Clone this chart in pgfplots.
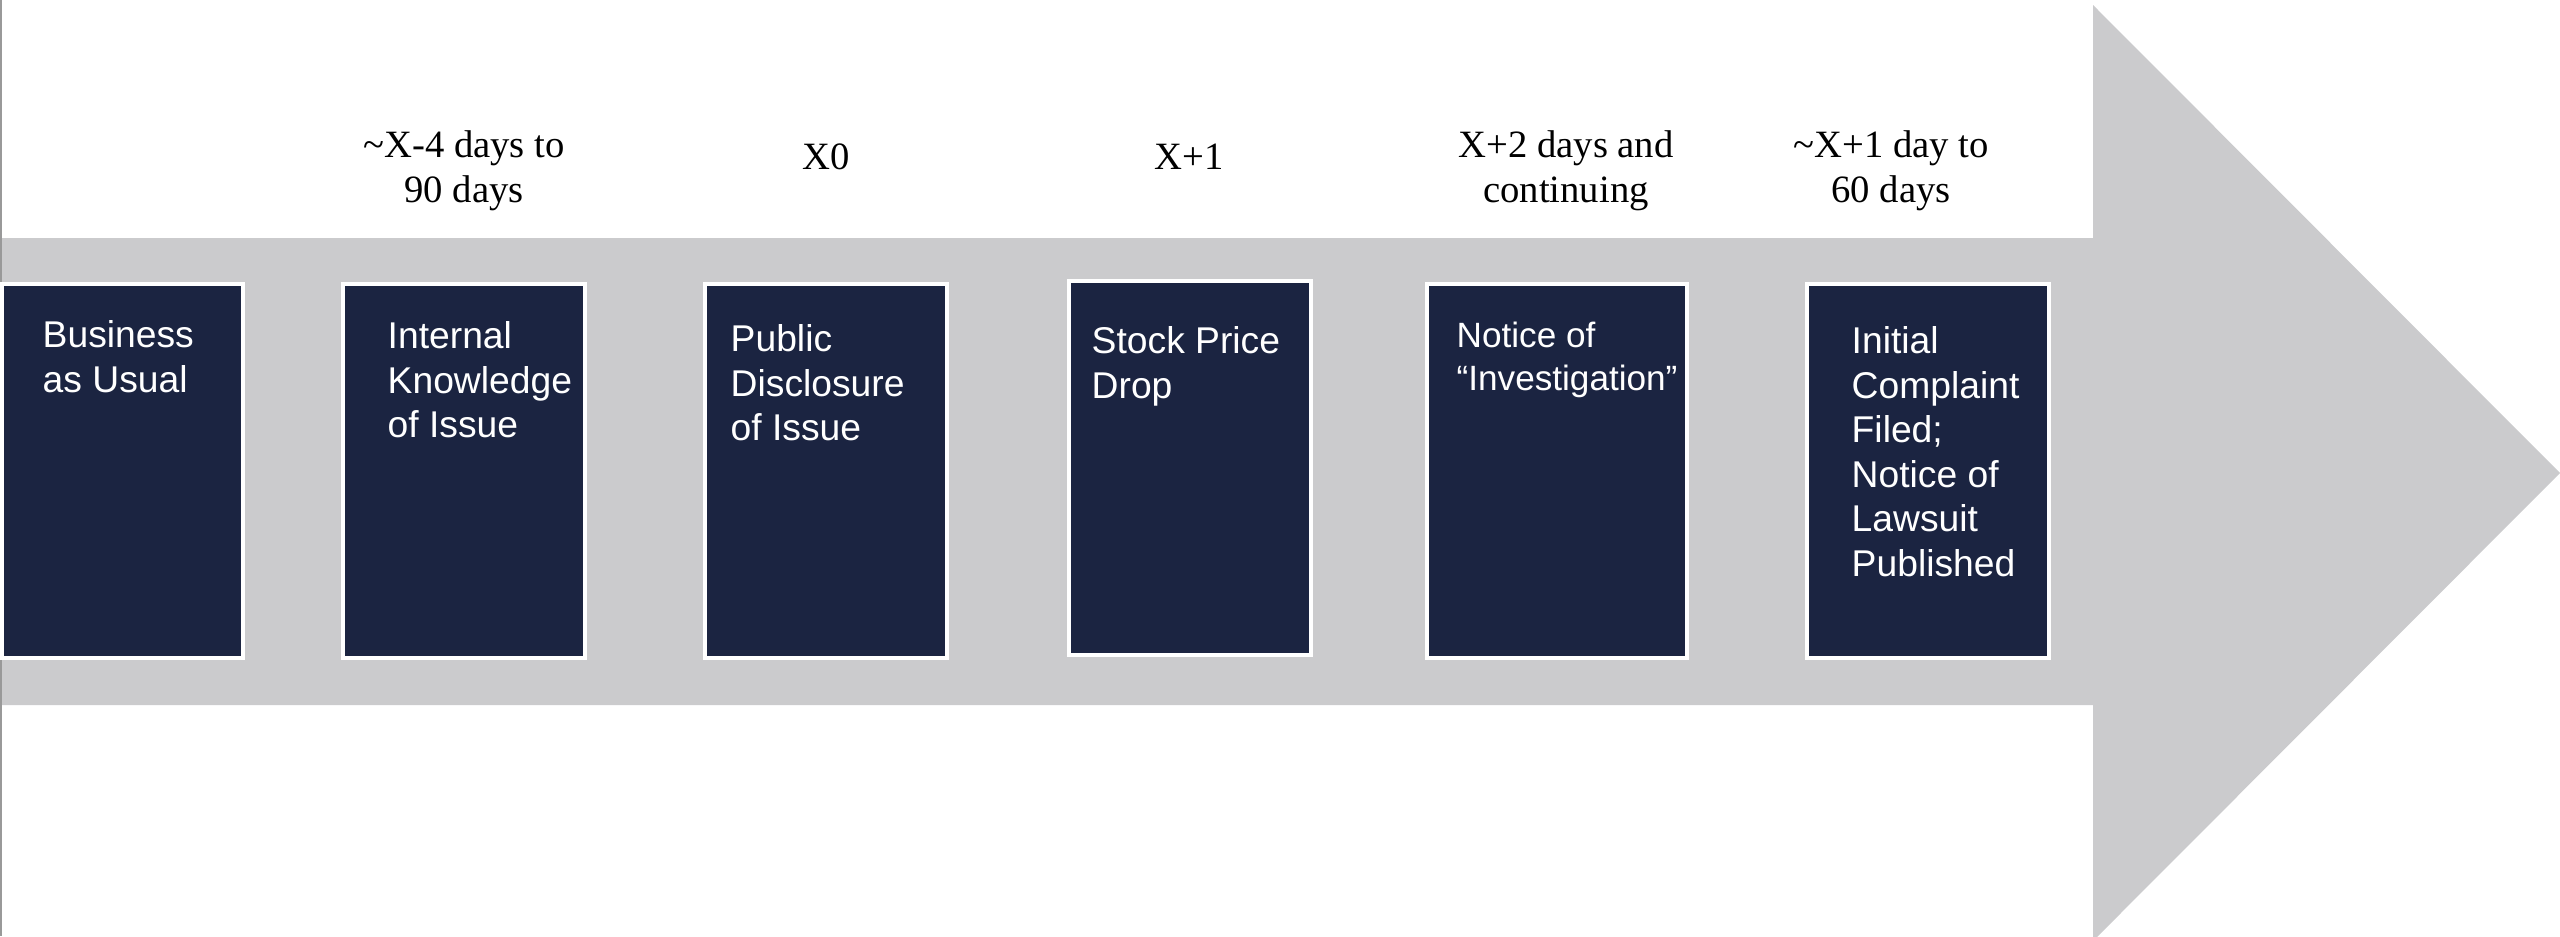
\documentclass[border=0pt]{standalone}
\usepackage{pgfplots}
\pgfplotsset{compat=1.18}
\usepackage{fontspec}
\setmainfont{Liberation Serif}
\newfontfamily\arial{Liberation Sans}
\definecolor{navy}{HTML}{1B2441}
\definecolor{arrowgray}{HTML}{CBCBCD}
\begin{document}
\begin{tikzpicture}
\begin{axis}[scale only axis, width=25.6cm, height=9.36cm,
  xmin=0, xmax=2560, ymin=0, ymax=936, y dir=reverse, hide axis, clip=true]
% arrow
\addplot[fill=arrowgray, draw=none] coordinates {(0,238) (2093,238) (2093,5) (2560,473) (2093,941) (2093,705) (0,705)} -- cycle;
% left edge line
\addplot[color=gray!80, line width=0.4pt] coordinates {(1,0) (1,936)};
% boxes
\addplot[fill=navy, draw=white, line width=1.2pt] coordinates {(2,284) (243,284) (243,658) (2,658)} -- cycle;
\addplot[fill=navy, draw=white, line width=1.2pt] coordinates {(343,284) (585,284) (585,658) (343,658)} -- cycle;
\addplot[fill=navy, draw=white, line width=1.2pt] coordinates {(705,284) (947,284) (947,658) (705,658)} -- cycle;
\addplot[fill=navy, draw=white, line width=1.2pt] coordinates {(1069,281) (1311,281) (1311,655) (1069,655)} -- cycle;
\addplot[fill=navy, draw=white, line width=1.2pt] coordinates {(1427,284) (1687,284) (1687,658) (1427,658)} -- cycle;
\addplot[fill=navy, draw=white, line width=1.2pt] coordinates {(1807,284) (2049,284) (2049,658) (1807,658)} -- cycle;
% box texts
\tikzset{bt/.style={anchor=north west, inner sep=0pt, align=left, text=white, font=\arial\fontsize{10.6}{12.65}\selectfont}}
\node[bt] at (axis cs:42,320) {Business\\as Usual};
\node[bt] at (axis cs:387,321) {Internal\\Knowledge\\of Issue};
\node[bt] at (axis cs:730,324) {Public\\Disclosure\\of Issue};
\node[bt] at (axis cs:1091,326) {Stock Price\\Drop};
\node[bt, font=\arial\fontsize{10}{12.2}\selectfont] at (axis cs:1456,321) {Notice of\\“Investigation”};
\node[bt] at (axis cs:1851,326) {Initial\\Complaint\\Filed;\\Notice of\\Lawsuit\\Published};
% top labels
\tikzset{tl/.style={anchor=center, inner sep=0pt, align=center, font=\fontsize{11}{12.8}\selectfont}}
\node[tl] at (axis cs:464,171) {\textasciitilde X-4 days to\\90 days};
\node[tl] at (axis cs:826,157) {X0};
\node[tl] at (axis cs:1189,157) {X+1};
\node[tl] at (axis cs:1566,171) {X+2 days and\\continuing};
\node[tl] at (axis cs:1891,171) {\textasciitilde X+1 day to\\60 days};
\end{axis}
\end{tikzpicture}
\end{document}
